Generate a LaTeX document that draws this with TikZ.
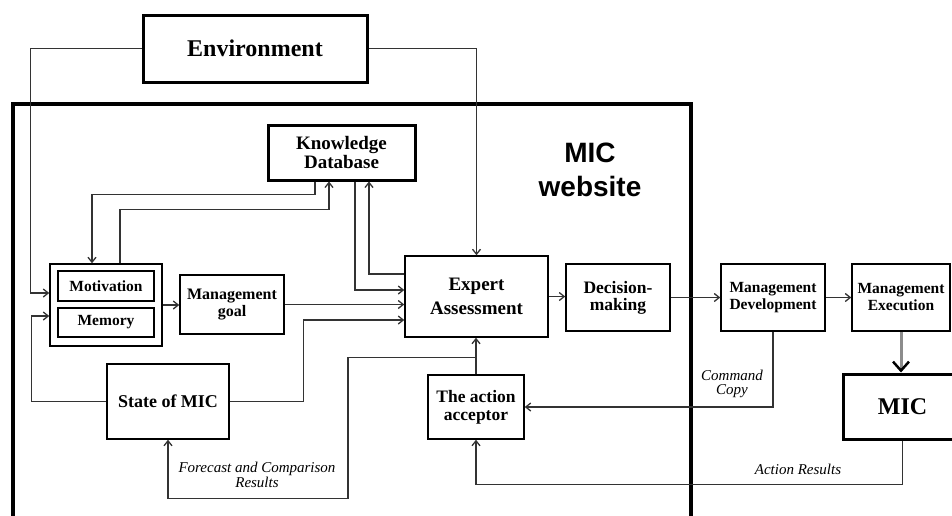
\documentclass[tikz,border=0pt]{standalone}
\usepackage{fontspec}
\setmainfont{Liberation Serif}
\newfontfamily\arialfont{Liberation Sans}
\usetikzlibrary{calc,arrows.meta}

\begin{document}
\begin{tikzpicture}[x=1pt, y=-1pt, >={Straight Barb[length=5pt, width=8pt]},
  box/.style={draw, line width=1.5pt, align=center, inner sep=0pt, font=\bfseries\fontsize{17.5}{17}\selectfont},
  heavybox/.style={box, line width=3pt},
  note/.style={align=center, inner sep=0pt, font=\itshape\fontsize{15}{14.5}\selectfont},
  wire/.style={line width=1.3pt, black!80}]

  \useasboundingbox (0,0) rectangle (952,515);

  %% site frame
  \draw[line width=4pt] (13,520) -- (13,104) -- (691,104) -- (691,520);
  \node[font=\arialfont\bfseries\fontsize{28}{34}\selectfont, align=center] (weblbl) at (590,170) {MIC\\website};

  \node[heavybox, minimum width=224pt, minimum height=67pt, font=\bfseries\fontsize{24}{26}\selectfont] (env) at (255,48.5) {Environment};
  \node[heavybox, minimum width=147pt, minimum height=55pt, font=\bfseries\fontsize{19}{19}\selectfont] (kd) at (341.5,152.5) {Knowledge\\Database};

  \node[box, minimum width=112pt, minimum height=82pt] (mm) at (106,305) {};
  \node[box, minimum width=96pt, minimum height=30pt, font=\bfseries\fontsize{15.5}{16}\selectfont] (mot) at (106,286) {Motivation};
  \node[box, minimum width=96pt, minimum height=29pt, font=\bfseries\fontsize{15.5}{16}\selectfont] (mem) at (106,322.5) {Memory};

  \node[box, minimum width=104pt, minimum height=59pt, font=\bfseries\fontsize{16}{17}\selectfont] (goal) at (232,304.5) {Management\\goal};
  \node[box, minimum width=143pt, minimum height=81pt, font=\bfseries\fontsize{19}{24}\selectfont] (expert) at (476.5,296.5) {Expert\\Assessment};
  \node[box, minimum width=122pt, minimum height=75pt, font=\bfseries\fontsize{18}{19}\selectfont] (state) at (168,401.5) {State of MIC};
  \node[box, minimum width=96pt, minimum height=64pt, font=\bfseries\fontsize{17.5}{18}\selectfont] (acc) at (476,407) {The action\\acceptor};

  \node[box, minimum width=104pt, minimum height=67pt] (dec) at (618,297.5) {Decision-\\making};
  \node[box, minimum width=104pt, minimum height=67pt, font=\bfseries\fontsize{15.5}{17}\selectfont] (dev) at (773,297.5) {Management\\Development};
  \node[box, minimum width=98pt, minimum height=67pt, font=\bfseries\fontsize{15.5}{17}\selectfont] (exe) at (901,297.5) {Management\\Execution};
  \node[heavybox, minimum width=119pt, minimum height=65pt, font=\bfseries\fontsize{24}{26}\selectfont] (mic) at (902.5,406.5) {MIC};

  %% environment inputs
  \draw[wire, ->] (env.west) -- ++(-111,0) |- ($(mm.west)+(0,-12)$);
  \draw[wire, ->] (env.east) -| (expert.north);

  %% knowledge base loops
  \draw[wire, ->] ($(kd.south)+(-26.5,0)$) -- ++(0,13) -| ($(mm.north)+(-14,0)$);
  \draw[wire, ->] ($(mm.north)+(14,0)$) |- ($(kd.south)+(-12.5,28)$) -- ($(kd.south)+(-12.5,0)$);
  \draw[wire, ->] ($(kd.south)+(13.5,0)$) |- ($(expert.west)+(0,-6.5)$);
  \draw[wire, ->] ($(expert.west)+(0,-22.5)$) -| ($(kd.south)+(27.5,0)$);

  \draw[wire, ->] (mm.east) -- (mm.east -| goal.west);
  \draw[wire, ->] (goal.east) -- (goal.east -| expert.west);
  \draw[wire, ->] (state.east) -- ++(74,0) |- ($(expert.west)+(0,23.5)$);
  \draw[wire, ->] (state.west) -- ++(-75,0) |- ($(mm.west)+(0,11)$);

  %% decision chain
  \draw[wire, ->] (expert.east) -- (expert.east -| dec.west);
  \draw[wire, ->] (dec.east) -- (dev.west);
  \draw[wire, ->] (dev.east) -- (exe.west);
  \draw[line width=3pt, black!45, -{Straight Barb[black, length=9pt, width=16pt, line width=2.5pt]}] (exe.south) -- (exe.south |- mic.north);

  %% feedback
  \draw[wire, ->] (acc.north) -- (acc.north |- expert.south);
  \draw[wire, ->] (dev.south) |- (acc.east);
  \node[note] (cmdlbl) at (732,384) {Command\\Copy};
  \draw[wire, ->] (mic.south) -- ++(0,44) -| (acc.south);
  \node[note] (reslbl) at (798,469) {Action Results};
  \draw[wire, ->] ($(expert.south)+(0,20)$) -- ++(-128.5,0) -- ++(0,141) -| (state.south);
  \node[note] (fclbl) at (257,475) {Forecast and Comparison\\Results};
\end{tikzpicture}
\end{document}
